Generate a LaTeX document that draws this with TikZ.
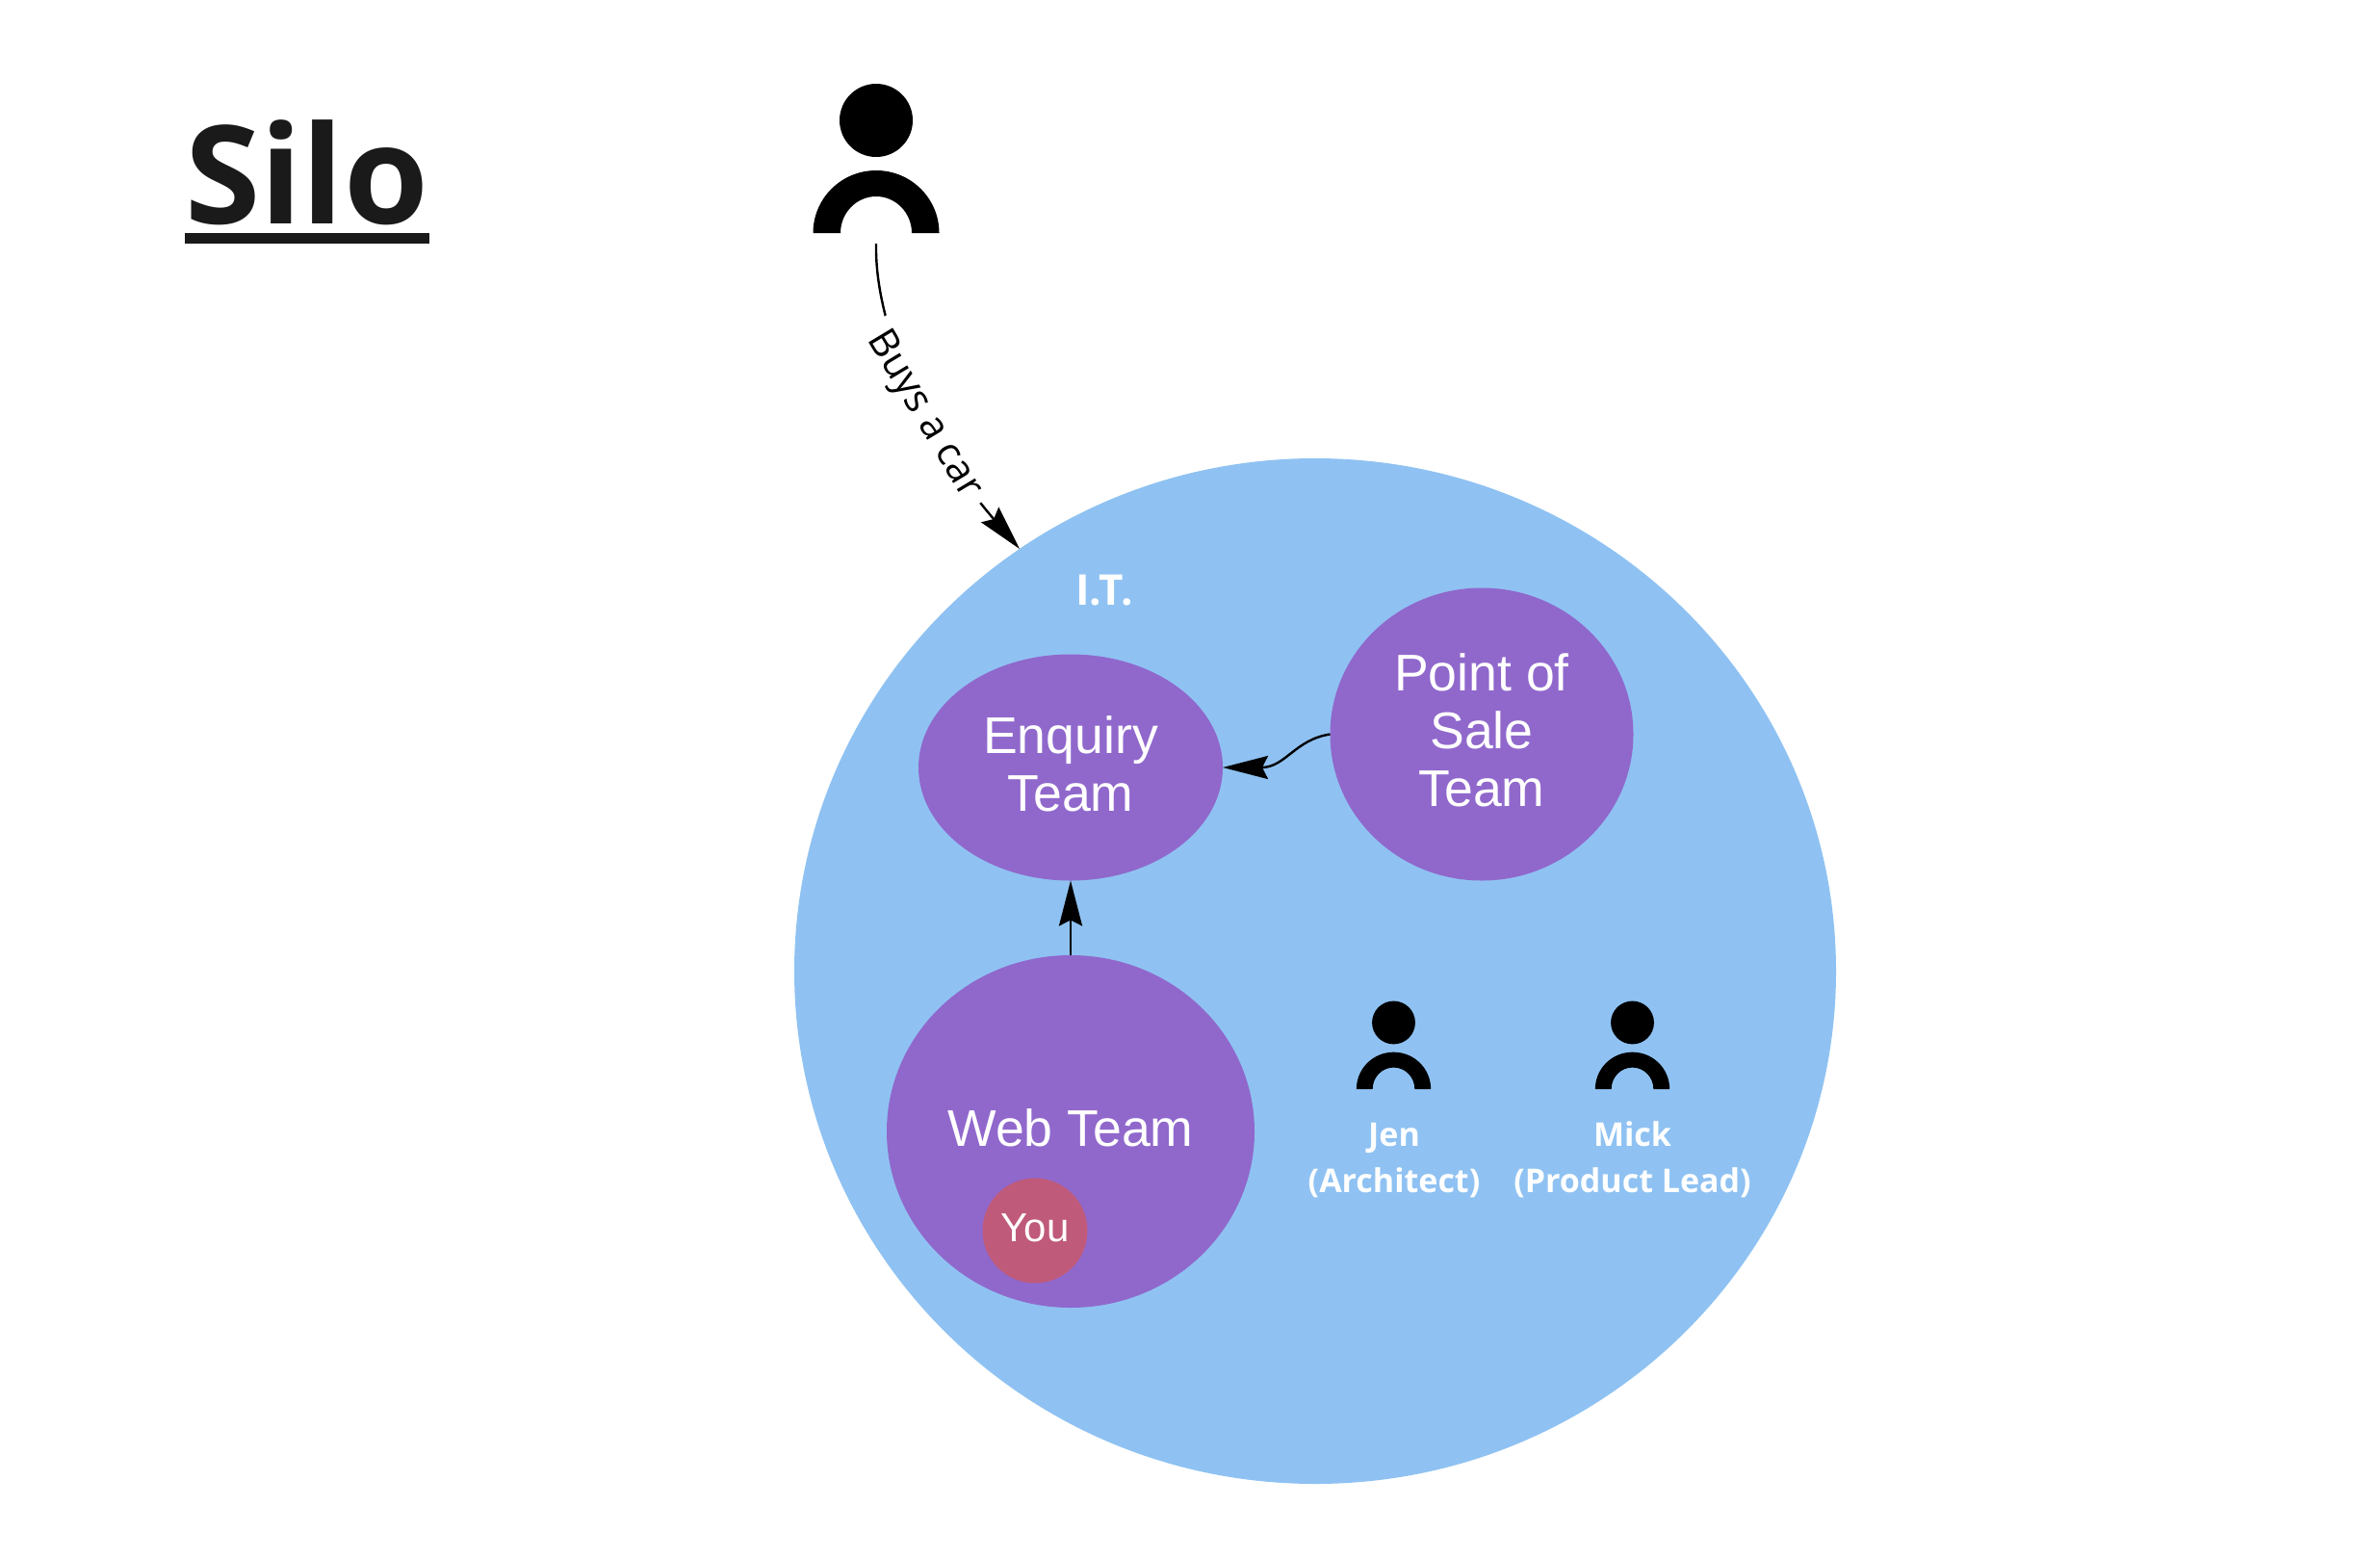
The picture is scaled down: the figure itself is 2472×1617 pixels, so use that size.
\documentclass[tikz,border=0pt]{standalone}
\usepackage{fontspec}
\usetikzlibrary{arrows.meta,shapes.geometric}
\newfontfamily\opensansfam{Open Sans}
\newfontfamily\arialfam{Liberation Sans}
\definecolor{itblue}{HTML}{8FC2F2}
\definecolor{teampurple}{HTML}{9068CC}
\definecolor{youpink}{HTML}{BF5A7A}
\definecolor{silodark}{HTML}{1A1A1A}
\tikzset{
  team/.style={ellipse,fill=teampurple,draw=none,inner sep=0pt,outer sep=0pt,text=white,align=center,text depth=4pt,
    font=\arialfam\fontsize{26.8}{30}\selectfont},
  peoplelabel/.style={text=white,align=center,inner sep=0pt,
    font=\opensansfam\bfseries\fontsize{17}{24}\selectfont},
  link/.style={line width=1.2pt,-{Stealth[length=23.5pt,width=12pt,inset=3pt]}},
  personicon/.pic={
    \fill[black] (0,117) ellipse[x radius=38,y radius=38];
    \fill[black] (-65.5,0) arc[start angle=180,end angle=0,x radius=65.5,y radius=65]
      -- (37,0) arc[start angle=0,end angle=180,x radius=37,y radius=38] -- cycle;
  }
}
\begin{document}
\begin{tikzpicture}[x=0.5pt,y=0.5pt]
\useasboundingbox (0,0) rectangle (2472,-1617);
% title
\node[anchor=base west,inner sep=0pt,text=silodark,font=\opensansfam\bfseries\fontsize{71}{80}\selectfont] (title) at (192,-232) {Silo};
\coordinate (ulA) at (192,-242);
\coordinate (ulB) at (446,-253);
\fill[silodark] (ulA) rectangle (ulB);
% IT circle
\node[ellipse,fill=itblue,draw=none,inner sep=0pt,outer sep=0pt,minimum width=541pt,minimum height=532.5pt] (IT) at (1366,-1008.5) {};
\node[text=white,inner sep=0pt,anchor=base,font=\opensansfam\bfseries\fontsize{22}{26}\selectfont] (itlabel) at (1147,-628) {I.T.};
% teams
\node[team,minimum width=158pt,minimum height=117.5pt] (enquiry) at (1112,-797) {Enquiry\\Team};
\node[team,minimum width=157.5pt,minimum height=152pt] (pos) at (1539,-762.5) {Point of\\Sale\\Team};
\node[team,minimum width=191pt,minimum height=183pt] (web) at (1112,-1175) {Web Team};
\node[circle,fill=youpink,draw=none,inner sep=0pt,outer sep=0pt,minimum size=54.5pt,text=white,text depth=3pt,font=\arialfam\fontsize{21}{24}\selectfont] (you) at (1075,-1278) {You};
% people
\pic at (910,-242) {personicon};
\pic[scale=0.59] at (1447.5,-1131) {personicon};
\pic[scale=0.59] at (1695.5,-1131) {personicon};
\node[peoplelabel,anchor=base] (jen) at (1448,-1238) {Jen\\(Architect)};
\node[peoplelabel,anchor=base] (mick) at (1695.5,-1238) {Mick\\(Product Lead)};
% connectors
\coordinate (buyerfoot) at (910,-253);
\draw[link] (buyerfoot) .. controls (908,-345) and (968,-465) .. (IT.125.5);
\node[fill=white,inner xsep=5.5pt,inner ysep=1pt,rotate=-59,font=\opensansfam\fontsize{20.5}{24}\selectfont] (buys) at (959,-431) {Buys a car};
\draw[link] (web.north) -- (enquiry.south);
\draw[link] (pos.west) .. controls (1345,-768) and (1335,-797) .. (enquiry.east);
\end{tikzpicture}
\end{document}
